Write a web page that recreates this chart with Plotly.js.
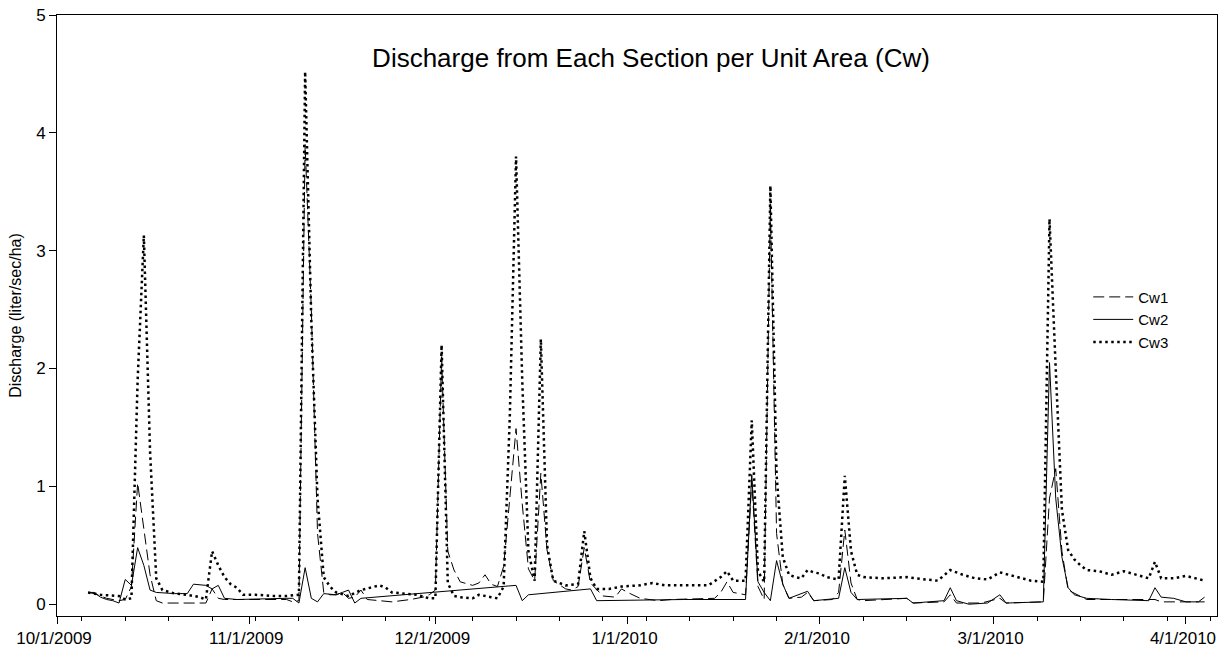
<!DOCTYPE html>
<html>
<head>
<meta charset="utf-8">
<script src="https://cdn.plot.ly/plotly-3.0.1.min.js"></script>
<style>html,body{margin:0;padding:0;background:#fff;}#chart{width:1220px;height:652px;}</style>
</head>
<body>
<div id="chart"></div>
<script>
// ---- data ----
const cw1Dates = ['2009-10-06','2009-10-07','2009-10-09','2009-10-11','2009-10-12','2009-10-13','2009-10-14','2009-10-15','2009-10-16','2009-10-17','2009-10-18','2009-10-25','2009-10-26','2009-10-27','2009-10-28','2009-11-07','2009-11-08','2009-11-09','2009-11-10','2009-11-11','2009-11-12','2009-11-13','2009-11-14','2009-11-15','2009-11-16','2009-11-17','2009-11-18','2009-11-19','2009-11-20','2009-11-24','2009-11-27','2009-11-29','2009-11-30','2009-12-01','2009-12-02','2009-12-03','2009-12-04','2009-12-05','2009-12-07','2009-12-08','2009-12-09','2009-12-10','2009-12-11','2009-12-12','2009-12-13','2009-12-14','2009-12-15','2009-12-16','2009-12-17','2009-12-18','2009-12-19','2009-12-20','2009-12-22','2009-12-23','2009-12-24','2009-12-25','2009-12-26','2009-12-28','2009-12-30','2009-12-31','2010-01-01','2010-01-03','2010-01-06','2010-01-08','2010-01-15','2010-01-16','2010-01-17','2010-01-18','2010-01-19','2010-01-20','2010-01-21','2010-01-22','2010-01-23','2010-01-24','2010-01-25','2010-01-26','2010-01-27','2010-01-29','2010-01-30','2010-01-31','2010-02-03','2010-02-04','2010-02-05','2010-02-06','2010-02-07','2010-02-08','2010-02-15','2010-02-16','2010-02-21','2010-02-22','2010-02-23','2010-02-27','2010-03-02','2010-03-03','2010-03-09','2010-03-10','2010-03-11','2010-03-12','2010-03-13','2010-03-16','2010-03-27','2010-03-28','2010-04-04'];
const cw1Values = [0.10,0.09,0.05,0.03,0.04,0.15,1.03,0.62,0.25,0.03,0.01,0.01,0.13,0.05,0.04,0.04,0.02,0.03,3.90,2.50,0.60,0.10,0.08,0.08,0.10,0.05,0.06,0.12,0.04,0.02,0.04,0.06,0.08,0.12,2.10,0.45,0.29,0.19,0.16,0.18,0.25,0.17,0.15,0.32,0.90,1.49,0.85,0.30,0.20,1.11,0.46,0.20,0.13,0.12,0.15,0.48,0.18,0.07,0.06,0.13,0.10,0.05,0.03,0.04,0.05,0.10,0.19,0.10,0.09,0.08,1.05,0.15,0.04,3.40,0.60,0.17,0.05,0.06,0.10,0.03,0.04,0.10,0.63,0.18,0.04,0.03,0.05,0.01,0.02,0.08,0.01,0.01,0.05,0.01,0.02,0.90,1.15,0.45,0.12,0.04,0.04,0.02,0.02];

const cw2Dates = ['2009-10-06','2009-10-07','2009-10-08','2009-10-09','2009-10-10','2009-10-11','2009-10-12','2009-10-13','2009-10-14','2009-10-15','2009-10-16','2009-10-17','2009-10-20','2009-10-22','2009-10-23','2009-10-25','2009-10-26','2009-10-27','2009-10-28','2009-10-30','2009-11-07','2009-11-08','2009-11-09','2009-11-10','2009-11-11','2009-11-12','2009-11-13','2009-11-15','2009-11-16','2009-11-17','2009-11-18','2009-11-19','2009-12-14','2009-12-15','2009-12-16','2009-12-26','2009-12-27','2010-01-05','2010-01-10','2010-01-20','2010-01-21','2010-01-22','2010-01-23','2010-01-24','2010-01-25','2010-01-26','2010-01-27','2010-01-30','2010-01-31','2010-02-04','2010-02-05','2010-02-06','2010-02-07','2010-02-15','2010-02-16','2010-02-21','2010-02-22','2010-02-23','2010-02-25','2010-02-28','2010-03-02','2010-03-03','2010-03-09','2010-03-10','2010-03-11','2010-03-12','2010-03-13','2010-03-14','2010-03-16','2010-03-20','2010-03-26','2010-03-27','2010-03-28','2010-03-30','2010-04-01','2010-04-03','2010-04-04'];
const cw2Values = [0.10,0.10,0.06,0.04,0.03,0.01,0.21,0.16,0.48,0.33,0.12,0.10,0.09,0.09,0.17,0.16,0.13,0.16,0.05,0.04,0.05,0.05,0.01,0.31,0.05,0.02,0.09,0.08,0.10,0.12,0.01,0.05,0.16,0.03,0.08,0.13,0.03,0.04,0.04,0.04,1.10,0.19,0.10,0.03,0.37,0.17,0.05,0.11,0.03,0.05,0.31,0.10,0.04,0.05,0.01,0.03,0.14,0.03,0.00,0.01,0.08,0.01,0.02,2.05,0.90,0.40,0.14,0.08,0.05,0.04,0.03,0.14,0.06,0.05,0.02,0.02,0.06];

const cw3Dates = ['2009-10-06','2009-10-08','2009-10-11','2009-10-12','2009-10-13','2009-10-14','2009-10-15','2009-10-16','2009-10-17','2009-10-18','2009-10-20','2009-10-22','2009-10-24','2009-10-25','2009-10-26','2009-10-27','2009-10-28','2009-10-29','2009-10-30','2009-10-31','2009-11-02','2009-11-05','2009-11-07','2009-11-09','2009-11-10','2009-11-11','2009-11-12','2009-11-13','2009-11-14','2009-11-15','2009-11-17','2009-11-19','2009-11-22','2009-11-23','2009-11-24','2009-11-28','2009-11-30','2009-12-01','2009-12-02','2009-12-03','2009-12-04','2009-12-05','2009-12-07','2009-12-08','2009-12-10','2009-12-11','2009-12-12','2009-12-13','2009-12-14','2009-12-15','2009-12-16','2009-12-17','2009-12-18','2009-12-19','2009-12-20','2009-12-21','2009-12-22','2009-12-24','2009-12-25','2009-12-26','2009-12-27','2009-12-29','2009-12-31','2010-01-03','2010-01-05','2010-01-07','2010-01-10','2010-01-14','2010-01-16','2010-01-17','2010-01-18','2010-01-20','2010-01-21','2010-01-22','2010-01-23','2010-01-24','2010-01-25','2010-01-26','2010-01-27','2010-01-28','2010-01-29','2010-01-30','2010-01-31','2010-02-01','2010-02-02','2010-02-04','2010-02-05','2010-02-06','2010-02-07','2010-02-08','2010-02-11','2010-02-15','2010-02-18','2010-02-20','2010-02-22','2010-02-24','2010-02-26','2010-02-28','2010-03-02','2010-03-04','2010-03-06','2010-03-07','2010-03-09','2010-03-10','2010-03-11','2010-03-12','2010-03-13','2010-03-14','2010-03-15','2010-03-16','2010-03-18','2010-03-20','2010-03-22','2010-03-24','2010-03-26','2010-03-27','2010-03-28','2010-03-30','2010-04-01','2010-04-04'];
const cw3Values = [0.10,0.08,0.07,0.04,0.05,1.90,3.13,1.30,0.22,0.12,0.09,0.08,0.06,0.04,0.45,0.33,0.23,0.17,0.14,0.08,0.08,0.07,0.07,0.08,4.52,2.40,0.90,0.23,0.15,0.10,0.07,0.12,0.16,0.14,0.10,0.08,0.05,0.05,2.20,0.18,0.07,0.06,0.05,0.08,0.06,0.05,0.15,1.60,3.80,1.90,0.45,0.20,2.25,0.50,0.20,0.18,0.16,0.17,0.62,0.22,0.13,0.13,0.15,0.16,0.18,0.16,0.16,0.16,0.23,0.28,0.20,0.20,1.56,0.28,0.19,3.55,1.10,0.40,0.25,0.23,0.22,0.29,0.27,0.26,0.23,0.21,1.09,0.45,0.25,0.23,0.22,0.23,0.21,0.20,0.29,0.25,0.22,0.21,0.27,0.24,0.21,0.20,0.19,3.27,2.00,0.80,0.46,0.38,0.33,0.29,0.28,0.25,0.28,0.25,0.22,0.36,0.22,0.22,0.24,0.20];

const seriesNames = ['Cw1','Cw2','Cw3'];
const monthTickDates = ['2009-10-01','2009-11-01','2009-12-01','2010-01-01','2010-02-01','2010-03-01','2010-04-01'];
const monthTickLabels = ['10/1/2009','11/1/2009','12/1/2009','1/1/2010','2/1/2010','3/1/2010','4/1/2010'];
const yTickVals = [0,1,2,3,4,5];
const chartTitle = 'Discharge from Each Section per Unit Area (Cw)';
const yTitle = 'Discharge (liter/sec/ha)';

// weekly minor ticks (Mondays)
const weekTicks = [];
{
  let t = Date.UTC(2009, 9, 5);
  const end = Date.UTC(2010, 3, 6);
  while (t <= end) { weekTicks.push(new Date(t).toISOString().slice(0,10)); t += 7*86400000; }
}

const FONT = 'Liberation Sans, Arial, Helvetica, sans-serif';

const traces = [
  {x: cw1Dates, y: cw1Values, name: seriesNames[0], type: 'scatter', mode: 'lines',
   line: {color: '#000', width: 1, dash: '11px,5px'}},
  {x: cw2Dates, y: cw2Values, name: seriesNames[1], type: 'scatter', mode: 'lines',
   line: {color: '#000', width: 1}},
  {x: cw3Dates, y: cw3Values, name: seriesNames[2], type: 'scatter', mode: 'lines',
   line: {color: '#000', width: 2.5, dash: '2.5px,3.5px'}}
];

const layout = {
  width: 1220, height: 652,
  margin: {l: 57, r: 3, t: 15, b: 36, pad: 0},
  paper_bgcolor: '#fff', plot_bgcolor: '#fff',
  font: {family: FONT, color: '#000', size: 16},
  title: {text: chartTitle, font: {family: FONT, size: 26, color: '#000'},
          x: 651/1220, xref: 'container', xanchor: 'center',
          y: 1 - 58/652, yref: 'container', yanchor: 'middle'},
  showlegend: true,
  legend: {x: 0.889, y: 0.558, xanchor: 'left', yanchor: 'top', bgcolor: 'rgba(0,0,0,0)',
           borderwidth: 0, font: {family: FONT, size: 15, color: '#000'}, itemwidth: 40,
           tracegroupgap: 0},
  xaxis: {
    type: 'date', range: ['2009-10-01', '2010-04-06'],
    tickmode: 'array', tickvals: monthTickDates, ticktext: monthTickLabels,
    ticks: 'outside', ticklen: 7, tickwidth: 1, tickcolor: '#000',
    showline: true, linecolor: '#000', linewidth: 1, mirror: true,
    showgrid: false, zeroline: false, automargin: false,
    ticklabelshift: -3,
    tickfont: {family: FONT, size: 17, color: '#000'},
    minor: {tickmode: 'array', tickvals: weekTicks, ticks: 'outside', ticklen: 4, tickwidth: 1, tickcolor: '#000', showgrid: false}
  },
  yaxis: {
    range: [-0.1, 5], tickmode: 'array', tickvals: yTickVals,
    ticks: 'outside', ticklen: 7, tickwidth: 1, tickcolor: '#000',
    showline: true, linecolor: '#000', linewidth: 1, mirror: true,
    showgrid: false, zeroline: false, automargin: false,
    tickfont: {family: FONT, size: 17, color: '#000'},
    title: {text: yTitle, font: {family: FONT, size: 16, color: '#000'}, standoff: 10}
  }
};

Plotly.newPlot('chart', traces, layout, {displayModeBar: false, staticPlot: true});
</script>
</body>
</html>
